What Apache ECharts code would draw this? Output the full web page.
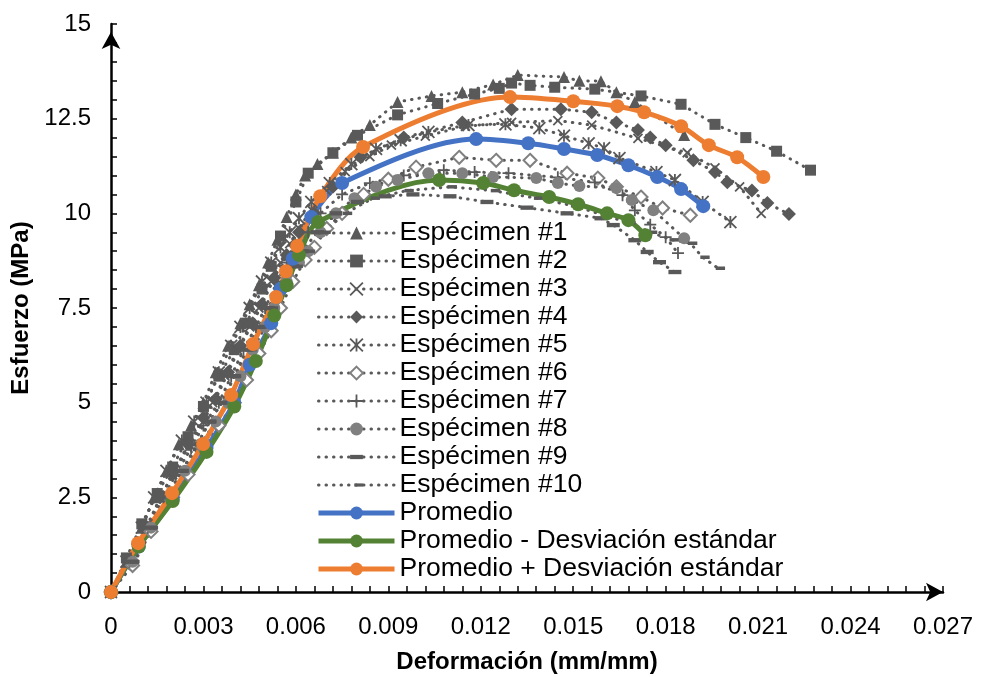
<!DOCTYPE html>
<html>
<head>
<meta charset="utf-8">
<script src="https://cdn.jsdelivr.net/npm/echarts@6/dist/echarts.min.js"></script>
<style>
  html, body { margin: 0; padding: 0; background: #fff; }
  #chart { width: 987px; height: 677px; }
</style>
</head>
<body>
<div id="chart"></div>
<script>
// ejes
const xTicks = [0, 0.003, 0.006, 0.009, 0.012, 0.015, 0.018, 0.021, 0.024, 0.027]
const yTicks = [0, 2.5, 5, 7.5, 10, 12.5, 15]

// [deformación, esfuerzo]
const spec1 = [[0,0],[0.0005,0.8],[0.001,1.7],[0.0014,2.5],[0.0018,3.2],[0.0022,3.9],[0.0026,4.4],[0.003,5.0],[0.0034,5.8],[0.0038,6.5],[0.0042,7.1],[0.0045,7.6],[0.0048,8.1],[0.0051,8.7],[0.0054,9.3],[0.0057,9.9],[0.006,10.5],[0.0063,11.0],[0.0067,11.3],[0.0072,11.6],[0.0078,12.0],[0.0084,12.33],[0.0093,12.94],[0.0104,13.1],[0.0114,13.2],[0.0124,13.4],[0.0132,13.65],[0.0147,13.6],[0.0152,13.5],[0.0159,13.49],[0.0164,13.2],[0.017,12.94],[0.0186,12.07]]
const spec2 = [[0,0],[0.0005,0.9],[0.001,1.8],[0.0015,2.6],[0.002,3.3],[0.0025,4.1],[0.003,4.9],[0.0035,5.7],[0.004,6.4],[0.0044,7.1],[0.0049,8.0],[0.0052,8.6],[0.0055,9.4],[0.006,10.3],[0.0064,11.06],[0.0072,11.6],[0.008,12.06],[0.0093,12.6],[0.0106,12.9],[0.0118,13.15],[0.0126,13.3],[0.013,13.44],[0.0136,13.38],[0.0144,13.33],[0.0157,13.28],[0.0172,13.1],[0.0185,12.88],[0.0196,12.35],[0.0206,12.0],[0.0216,11.64],[0.0227,11.14]]
const spec3 = [[0,0],[0.0006,0.8],[0.0012,1.8],[0.0016,2.5],[0.002,3.1],[0.0025,3.8],[0.003,4.5],[0.0033,5.0],[0.0037,5.7],[0.0041,6.4],[0.0045,7.0],[0.0048,7.5],[0.0052,8.2],[0.0055,8.7],[0.0058,9.2],[0.0061,9.6],[0.0065,10.1],[0.007,10.6],[0.0076,11.1],[0.0084,11.5],[0.0091,11.8],[0.0102,12.04],[0.0115,12.3],[0.013,12.4],[0.0145,12.45],[0.0156,12.33],[0.0171,11.98],[0.0187,11.6],[0.0196,11.2],[0.0204,10.7],[0.0211,10.0]]
const spec4 = [[0,0],[0.0006,0.8],[0.0012,1.7],[0.0016,2.5],[0.002,3.1],[0.0025,3.9],[0.003,4.6],[0.0034,5.1],[0.0038,5.8],[0.0042,6.5],[0.0046,7.1],[0.0049,7.6],[0.0053,8.3],[0.0057,8.9],[0.0061,9.5],[0.0066,10.0],[0.0072,10.7],[0.0081,11.48],[0.0095,12.0],[0.0114,12.4],[0.013,12.75],[0.0146,12.75],[0.0156,12.67],[0.0164,12.4],[0.0171,12.2],[0.0175,12.0],[0.018,11.8],[0.0189,11.4],[0.0196,11.09],[0.02,10.82],[0.0208,10.6],[0.0213,10.27],[0.022,9.98]]
const spec5 = [[0,0],[0.0005,0.8],[0.001,1.7],[0.0014,2.5],[0.0018,3.2],[0.0023,4.0],[0.0027,4.5],[0.0031,5.0],[0.0035,5.8],[0.0039,6.5],[0.0042,7.0],[0.0045,7.5],[0.0049,8.2],[0.0052,8.7],[0.0055,9.1],[0.0058,9.5],[0.0061,9.87],[0.0065,10.3],[0.0071,10.8],[0.0078,11.3],[0.0086,11.7],[0.0094,11.93],[0.0103,12.15],[0.0116,12.33],[0.0128,12.35],[0.0139,12.25],[0.0147,12.05],[0.0155,11.85],[0.016,11.72],[0.0165,11.46],[0.0177,11.09],[0.0183,10.88],[0.0192,10.3],[0.0201,9.77]]
const spec6 = [[0,0],[0.0007,0.7],[0.0013,1.6],[0.002,2.5],[0.0025,3.1],[0.003,3.8],[0.0035,4.4],[0.004,5.0],[0.0044,5.6],[0.0048,6.3],[0.0052,6.9],[0.0055,7.5],[0.0059,8.2],[0.0063,8.77],[0.0066,9.1],[0.007,9.6],[0.0075,10.0],[0.0082,10.5],[0.009,10.9],[0.0099,11.22],[0.0113,11.48],[0.0125,11.4],[0.0136,11.4],[0.0148,11.06],[0.0158,10.93],[0.0164,10.7],[0.0172,10.43],[0.0179,10.14],[0.0188,9.95]]
const spec7 = [[0,0],[0.0006,0.8],[0.0012,1.7],[0.0017,2.5],[0.0021,3.1],[0.0026,3.8],[0.003,4.4],[0.0035,5.0],[0.0039,5.7],[0.0043,6.4],[0.0047,7.0],[0.005,7.5],[0.0054,8.2],[0.0057,8.7],[0.006,9.0],[0.0064,9.5],[0.0068,10.0],[0.0075,10.5],[0.0084,10.8],[0.0095,11.0],[0.0108,11.14],[0.0118,11.09],[0.0129,11.06],[0.0145,10.95],[0.0157,10.82],[0.0166,10.48],[0.017,10.08],[0.0175,9.7],[0.018,9.37],[0.0184,8.95]]
const spec8 = [[0,0],[0.0007,0.8],[0.0013,1.7],[0.0019,2.5],[0.0024,3.2],[0.0029,3.9],[0.0034,4.5],[0.0038,5.0],[0.0042,5.7],[0.0046,6.4],[0.005,7.0],[0.0053,7.5],[0.0057,8.2],[0.0061,8.7],[0.0064,9.0],[0.0068,9.5],[0.0073,10.0],[0.0079,10.4],[0.0086,10.7],[0.0093,10.88],[0.0103,11.06],[0.0114,11.06],[0.0124,10.96],[0.0138,10.93],[0.0145,10.8],[0.0152,10.72],[0.0164,10.67],[0.0169,10.35],[0.0176,10.08],[0.0186,9.34]]
const spec9 = [[0,0],[0.0007,0.8],[0.0013,1.7],[0.0018,2.5],[0.0023,3.2],[0.0028,3.9],[0.0032,4.5],[0.0036,5.0],[0.004,5.7],[0.0044,6.4],[0.0048,7.0],[0.0051,7.5],[0.0055,8.1],[0.0059,8.6],[0.0062,9.0],[0.0067,9.5],[0.0073,10.0],[0.008,10.3],[0.0089,10.45],[0.0098,10.5],[0.011,10.45],[0.0122,10.3],[0.0135,10.15],[0.0148,10.0],[0.0159,9.87],[0.0163,9.69],[0.017,9.29],[0.0174,8.98],[0.0178,8.71],[0.0183,8.45]]
const spec10 = [[0,0],[0.0007,0.8],[0.0013,1.7],[0.0018,2.5],[0.0023,3.2],[0.0028,3.9],[0.0032,4.5],[0.0036,5.0],[0.004,5.7],[0.0045,6.4],[0.0049,7.0],[0.0052,7.5],[0.0056,8.1],[0.006,8.6],[0.0064,9.0],[0.0069,9.5],[0.0076,10.0],[0.0085,10.4],[0.0096,10.6],[0.011,10.7],[0.0124,10.6],[0.0138,10.4],[0.015,10.2],[0.016,9.95],[0.0168,9.75],[0.0175,9.5],[0.0182,9.3],[0.0188,9.21],[0.0192,8.84],[0.0197,8.55]]
const promedio = [[0,0],[0.0009,1.2],[0.002,2.45],[0.0031,3.8],[0.004,5.0],[0.0045,6.0],[0.0052,7.1],[0.0055,8.0],[0.0059,8.8],[0.0065,9.9],[0.0075,10.8],[0.01185,11.96],[0.01354,11.85],[0.0147,11.7],[0.01578,11.54],[0.01679,11.27],[0.01773,10.96],[0.0185,10.64],[0.01922,10.19]]
const promMenos = [[0,0],[0.0009,1.2],[0.002,2.4],[0.0031,3.7],[0.004,4.9],[0.0047,6.1],[0.0053,7.3],[0.0057,8.1],[0.0061,8.9],[0.00672,9.77],[0.01065,10.88],[0.01208,10.8],[0.01308,10.61],[0.01422,10.43],[0.01516,10.24],[0.0161,10.0],[0.01679,9.82],[0.01734,9.42]]
const promMas = [[0,0],[0.00088,1.29],[0.00198,2.61],[0.00299,3.91],[0.0039,5.2],[0.00461,6.55],[0.00536,7.79],[0.00568,8.47],[0.00604,9.14],[0.00679,10.45],[0.00818,11.75],[0.01295,13.07],[0.015,12.96],[0.01643,12.83],[0.0173,12.67],[0.0185,12.3],[0.0194,11.8],[0.02032,11.48],[0.02117,10.96]]

const DARK = '#595959'
const LIGHT = '#808080'
const FONT = 'Liberation Sans, Arial, sans-serif'

// marcadores (los M0,0M0,12 dejan la caja cuadrada para que la raya no se deforme)
const SYM_X = 'path://M0,0L10,10M10,0L0,10'
const SYM_AST = 'path://M5,0V10M0,0L10,10M10,0L0,10'
const SYM_PLUS = 'path://M5,0V10M0,5H10'
const SYM_DASH = 'path://M0,0M0,12M0,4H12V8H0Z'
const SYM_SHORT = 'path://M0,0M0,12M3,4.5H9V7.5H3Z'

function specimen(name, data, symbol, size, color, itemStyle) {
  return {
    name, type: 'line', data, symbol, symbolSize: size,
    showAllSymbol: true,
    lineStyle: { color: DARK, width: 3, type: [0.5, 7], cap: 'round' },
    itemStyle: Object.assign({ color }, itemStyle || {})
  }
}

function average(name, data, color) {
  return {
    name, type: 'line', data, smooth: 0.3, symbol: 'circle', symbolSize: 14,
    showAllSymbol: true,
    lineStyle: { color, width: 5 },
    itemStyle: { color }
  }
}

const stroke = { borderColor: DARK, borderWidth: 1.8 }

const series = [
  specimen('Espécimen #1', spec1, 'triangle', 12, DARK),
  specimen('Espécimen #2', spec2, 'rect', 11, DARK),
  specimen('Espécimen #3', spec3, SYM_X, 9, DARK, stroke),
  specimen('Espécimen #4', spec4, 'diamond', 14, DARK),
  specimen('Espécimen #5', spec5, SYM_AST, 12, DARK, stroke),
  specimen('Espécimen #6', spec6, 'emptyDiamond', 13, LIGHT, { borderColor: LIGHT, borderWidth: 3.5 }),
  specimen('Espécimen #7', spec7, SYM_PLUS, 12, DARK, stroke),
  specimen('Espécimen #8', spec8, 'circle', 12, LIGHT),
  specimen('Espécimen #9', spec9, SYM_DASH, 13, DARK),
  specimen('Espécimen #10', spec10, SYM_SHORT, 14, DARK),
  average('Promedio', promedio, '#4472c4'),
  average('Promedio - Desviación estándar', promMenos, '#548235'),
  average('Promedio + Desviación estándar', promMas, '#ed7d31')
]

const axisLine = (offset) => ({
  show: true,
  symbol: ['none', 'arrow'],
  symbolSize: [14, 17],
  symbolOffset: [0, offset],
  lineStyle: { color: '#000', width: 2.5 }
})

const chart = echarts.init(document.getElementById('chart'))
chart.setOption({
  animation: false,
  textStyle: { fontFamily: FONT },
  grid: { left: 111, right: 44, top: 24, bottom: 85, outerBoundsMode: 'none' },
  legend: {
    orient: 'vertical',
    left: 311, top: 214,
    itemWidth: 76, itemHeight: 16, itemGap: 0,
    lineStyle: { width: 'inherit' },
    itemStyle: { borderWidth: 'inherit' },
    textStyle: { fontSize: 26.5, color: '#000', lineHeight: 28, fontFamily: FONT },
    data: series.map(s => s.name)
  },
  xAxis: {
    type: 'value', min: xTicks[0], max: xTicks[xTicks.length - 1], interval: 0.003,
    name: 'Deformación (mm/mm)', nameLocation: 'middle', nameGap: 58,
    nameTextStyle: { fontSize: 24, fontWeight: 'bold', color: '#000', fontFamily: FONT },
    axisLine: axisLine(0),
    axisTick: { show: true, inside: true, length: 6, lineStyle: { color: '#000', width: 1.5 } },
    minorTick: { show: true, splitNumber: 5, length: 6, lineStyle: { color: '#000', width: 1.5 } },
    splitLine: { show: false },
    axisLabel: {
      fontSize: 24, color: '#000', margin: 23, fontFamily: FONT,
      formatter: v => (v === 0 ? '0' : v.toFixed(3))
    }
  },
  yAxis: {
    type: 'value', min: yTicks[0], max: yTicks[yTicks.length - 1], interval: 2.5,
    name: 'Esfuerzo (MPa)', nameLocation: 'middle', nameGap: 54, nameRotate: 90,
    nameTextStyle: { fontSize: 24, fontWeight: 'bold', color: '#000', fontFamily: FONT },
    axisLine: axisLine(-8),
    axisTick: { show: true, inside: true, length: 6, lineStyle: { color: '#000', width: 1.5 } },
    minorTick: { show: true, splitNumber: 5, length: 6, lineStyle: { color: '#000', width: 1.5 } },
    splitLine: { show: false },
    axisLabel: { fontSize: 24, color: '#000', margin: 20, fontFamily: FONT }
  },
  series
})
</script>
</body>
</html>
